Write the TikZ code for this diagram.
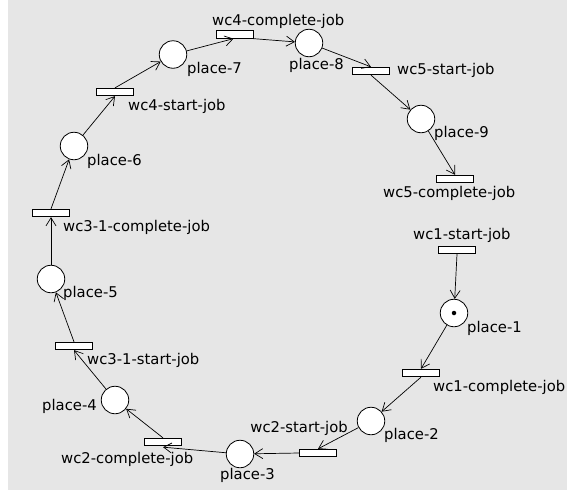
\documentclass[tikz,border=0pt]{standalone}
\usepackage{fontspec}
\setmainfont{DejaVu Sans}
\usetikzlibrary{arrows.meta}
\definecolor{bg}{HTML}{E6E6E6}
\begin{document}
\begin{tikzpicture}[x=1pt,y=-1pt,
  place/.style={circle,draw,fill=white,minimum size=27.5pt,inner sep=0pt,line width=0.8pt},
  trans/.style={rectangle,draw,fill=white,minimum width=37pt,minimum height=7.5pt,inner sep=0pt,line width=0.8pt},
  lbl/.style={anchor=base west,inner sep=0pt,font=\fontsize{14.8}{17}\selectfont},
  lble/.style={anchor=base east,inner sep=0pt,font=\fontsize{14.8}{17}\selectfont},
  arc/.style={-{Straight Barb[length=8pt,width=10pt]},line width=0.7pt}]
\fill[white] (0,0) rectangle (567,490);
\fill[bg] (8,0) rectangle (567,490);
\useasboundingbox (0,0) rectangle (567,490);
% places
\node[place] (p1) at (454,313) {};
\node[place] (p2) at (371,421) {};
\node[place] (p3) at (240,454) {};
\node[place] (p4) at (115,400) {};
\node[place] (p5) at (51,279) {};
\node[place] (p6) at (74,146) {};
\node[place] (p7) at (173,54.5) {};
\node[place] (p8) at (309,43) {};
\node[place] (p9) at (421,119) {};
\node[circle,fill=black,inner sep=0pt,minimum size=4.5pt] (tok) at (p1) {};
% transitions
\node[trans] (wc1s) at (457,250) {};
\node[trans] (wc1c) at (421,373) {};
\node[trans] (wc2s) at (318,453) {};
\node[trans] (wc2c) at (163,442) {};
\node[trans] (wc31s) at (74,346) {};
\node[trans] (wc31c) at (51,213) {};
\node[trans] (wc4s) at (115,92) {};
\node[trans] (wc4c) at (234.5,34.5) {};
\node[trans] (wc5s) at (371,71) {};
\node[trans] (wc5c) at (455,179) {};
% labels
\node[lbl] (l1) at (467,332) {place-1};
\node[lbl] (l2) at (384,439) {place-2};
\node[lbl] (l3) at (220,479) {place-3};
\node[lbl] (l4) at (42,410) {place-4};
\node[lbl] (l5) at (63,297) {place-5};
\node[lbl] (l6) at (87,165) {place-6};
\node[lbl] (l7) at (187,73) {place-7};
\node[lbl] (l8) at (289,69) {place-8};
\node[lbl] (l9) at (434,137) {place-9};
\node[lbl] (lt1s) at (413,239) {wc1-start-job};
\node[lbl] (lt1c) at (433,391) {wc1-complete-job};
\node[lble] (lt2s) at (348,432) {wc2-start-job};
\node[lbl] (lt2c) at (61,463) {wc2-complete-job};
\node[lbl] (lt31s) at (87,364) {wc3-1-start-job};
\node[lbl] (lt31c) at (63,231) {wc3-1-complete-job};
\node[lbl] (lt4s) at (128,110) {wc4-start-job};
\node[lbl] (lt4c) at (212,25) {wc4-complete-job};
\node[lbl] (lt5s) at (397,74) {wc5-start-job};
\node[lbl] (lt5c) at (383,197) {wc5-complete-job};
% arcs
\draw[arc] (wc1s.south) -- (p1);
\draw[arc] (p1) -- (wc1c.north);
\draw[arc] (wc1c.south) -- (p2);
\draw[arc] (p2) -- (wc2s.north);
\draw[arc] (wc2s.west) -- (p3);
\draw[arc] (p3) -- ([yshift=-1pt]wc2c.south);
\draw[arc] (wc2c.north) -- (p4);
\draw[arc] (p4) -- (wc31s.south);
\draw[arc] (wc31s.north) -- (p5);
\draw[arc] (p5) -- (wc31c.south);
\draw[arc] (wc31c.north) -- (p6);
\draw[arc] (p6) -- (wc4s.south);
\draw[arc] (wc4s.north) -- (p7);
\draw[arc] (p7) -- ([xshift=-1pt]wc4c.south);
\draw[arc] (wc4c.south east) -- (p8);
\draw[arc] (p8) -- (wc5s.north);
\draw[arc] (wc5s.south) -- (p9);
\draw[arc] (p9) -- (wc5c.north);
\end{tikzpicture}
\end{document}
